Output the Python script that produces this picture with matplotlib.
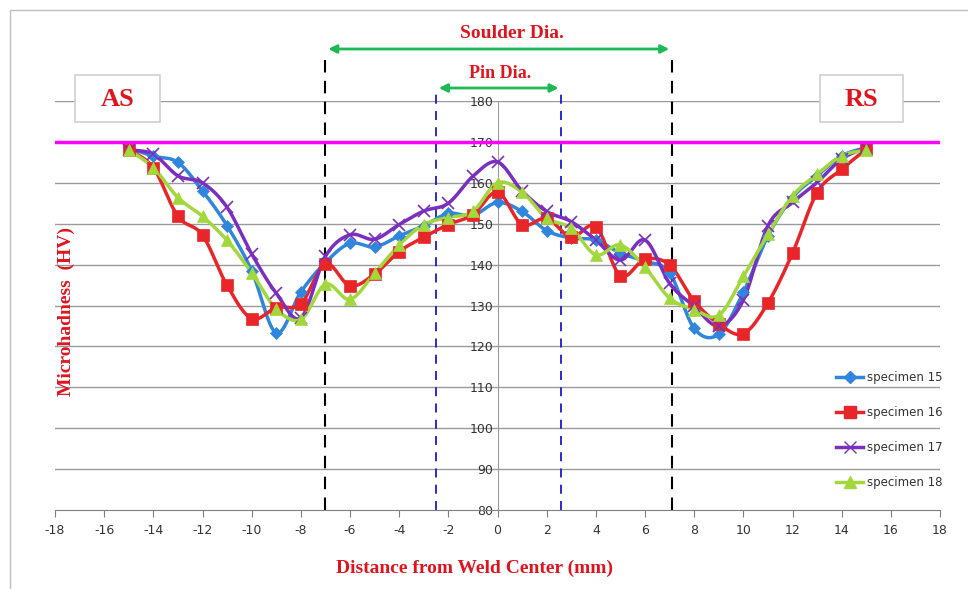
import numpy as np
import matplotlib
matplotlib.use("Agg")
import matplotlib.pyplot as plt
from matplotlib.patches import Rectangle

x = list(range(-15, 16))
spec15 = [168.5, 166.5, 165, 158, 149.5, 138.5, 123.3, 133.3, 140.5, 145.2, 144.3, 147, 149.5, 152.5, 152, 155.2,
          153, 148.3, 146.5, 146, 142.8, 140.8, 138, 124.4, 123, 133.2, 147, 156.4, 161.7, 166.6, 168.6]
spec16 = [168, 163.7, 151.8, 147.2, 134.9, 126.8, 129.5, 130.4, 140.2, 134.8, 137.7, 143.2, 146.7, 149.8, 152.2, 157.7,
          149.8, 151.3, 146.7, 149.3, 137.3, 141.3, 139.9, 131.1, 125.5, 123.1, 130.6, 142.8, 157.6, 163.3, 168.2]
spec17 = [168, 167, 161.7, 160, 154, 142.6, 133, 127, 142, 147.3, 146.2, 149.8, 153.1, 155, 161.6, 165.1,
          158, 153, 150.5, 146, 141.1, 146, 135.4, 129.8, 125, 131.3, 149.5, 155.2, 160.1, 165.8, 168.6]
spec18 = [168, 163.7, 156.4, 151.8, 145.9, 138, 129.2, 126.6, 135.2, 131.5, 137.9, 144.8, 149.8, 151.5, 153, 160,
          157.7, 151.4, 148.9, 142.4, 144.8, 139.3, 131.8, 129, 127.6, 137.1, 147.4, 156.8, 162.1, 166.6, 168]
series_names = ["specimen 15", "specimen 16", "specimen 17", "specimen 18"]
x_ticks = list(range(-18, 19, 2))
y_ticks = list(range(80, 181, 10))
base_line = 170
shoulder = (-7, 7.1)
pin = (-2.5, 2.6)


def smooth(xs, ys, n=20):
    xs = np.asarray(xs, float); ys = np.asarray(ys, float)
    P = np.column_stack([xs, ys])
    P = np.vstack([P[0], P, P[-1]])
    out = []
    t = np.linspace(0, 1, n, endpoint=False)
    for i in range(1, len(P) - 2):
        p0, p1, p2, p3 = P[i - 1], P[i], P[i + 1], P[i + 2]
        tt = t[:, None]
        seg = 0.5 * ((2 * p1) + (-p0 + p2) * tt + (2 * p0 - 5 * p1 + 4 * p2 - p3) * tt ** 2
                     + (-p0 + 3 * p1 - 3 * p2 + p3) * tt ** 3)
        out.append(seg)
    out.append(P[-2][None, :])
    out = np.vstack(out)
    return out[:, 0], out[:, 1]


fig = plt.figure(figsize=(9.68, 5.89), dpi=100)
ax = fig.add_axes([55 / 968, 79 / 589, 885 / 968, 409 / 589])
ax.set_xlim(-18, 18)
ax.set_ylim(80, 180)

# outer chart border
fig.patches.append(Rectangle((10 / 968, -0.1), 1.2, (589 - 10) / 589 + 0.1, transform=fig.transFigure,
                             fill=False, edgecolor="#bdbdbd", linewidth=1))

for yv in y_ticks[1:]:
    ax.axhline(yv, color="#9a9a9a", linewidth=1, zorder=0)

for s in ["top", "right"]:
    ax.spines[s].set_visible(False)
ax.spines["left"].set_position(("data", 0))
ax.spines["left"].set_color("#9a9a9a")
ax.spines["bottom"].set_color("#7f7f7f")
ax.set_xticks(x_ticks)
ax.set_yticks(y_ticks)
ax.set_xticklabels([str(v) for v in x_ticks])
ax.tick_params(axis="x", length=5, color="#7f7f7f", labelsize=9, labelcolor="#333333", pad=5)
ax.tick_params(axis="y", length=0, labelsize=9, labelcolor="#333333", pad=3)

colors = ["#2F86DC", "#E8262A", "#7B2FBE", "#A2D83B"]
markers = ["D", "s", "x", "^"]
msizes = [6, 8, 8, 8]
data = [spec15, spec16, spec17, spec18]
handles = []
for ys, c, m, ms, name in zip(data, colors, markers, msizes, series_names):
    sx, sy = smooth(x, ys)
    ax.plot(sx, sy, color=c, linewidth=2.5, zorder=3, clip_on=False)
    ax.plot(x, ys, linestyle="none", marker=m, color=c, markersize=ms, markeredgewidth=1.2 if m == "x" else 0.5,
            zorder=4, clip_on=False)
    h, = ax.plot([], [], color=c, linewidth=2.5, marker=m, markersize=ms)
    handles.append(h)

ax.axhline(base_line, color="#FF00FF", linewidth=2.5, zorder=5)

# vertical dashed lines
top_sh = 180 + (101 - 60) / 4.09
top_pin = 180 + (101 - 92) / 4.09
for xv in shoulder:
    ax.plot([xv, xv], [80, top_sh], color="black", linestyle=(0, (6, 4)), linewidth=1.5, clip_on=False, zorder=2)
for xv in pin:
    ax.plot([xv, xv], [80, top_pin], color="#1a1acc", linestyle=(0, (5, 4)), linewidth=1.3, clip_on=False, zorder=2)

y_arrow1 = 180 + (101 - 49) / 4.09
y_arrow2 = 180 + (101 - 88) / 4.09
ax.annotate("", xy=(shoulder[0], y_arrow1), xytext=(shoulder[1], y_arrow1),
            arrowprops=dict(arrowstyle="<|-|>", color="#1DB954", lw=2, mutation_scale=12), annotation_clip=False)
ax.annotate("", xy=(pin[0], y_arrow2), xytext=(pin[1], y_arrow2),
            arrowprops=dict(arrowstyle="<|-|>", color="#1DB954", lw=2, mutation_scale=12), annotation_clip=False)

tfont = dict(family="Liberation Serif", weight="bold", color="#E0141E")
fig.text(512 / 968, 1 - 33 / 589, "Soulder Dia.", ha="center", va="center", fontsize=14, **tfont)
fig.text(500 / 968, 1 - 74 / 589, "Pin Dia.", ha="center", va="center", fontsize=13, **tfont)
fig.text(475 / 968, 1 - 568 / 589, "Distance from Weld Center (mm)", ha="center", va="center", fontsize=14, **tfont)
fig.text(66 / 968, 1 - 312 / 589, "Microhadness  (HV)", ha="center", va="center", rotation=90, fontsize=14, **tfont)

for (x0, x1, lab) in [(75, 160, "AS"), (820, 903, "RS")]:
    fig.patches.append(Rectangle((x0 / 968, 1 - 122 / 589), (x1 - x0) / 968, 47 / 589, transform=fig.transFigure,
                                 facecolor="white", edgecolor="#d0d0d0", linewidth=1.2, zorder=5))
    fig.text((x0 + x1) / 2 / 968, 1 - 99 / 589, lab, ha="center", va="center", fontsize=19, zorder=6, **tfont)

leg = ax.legend(handles, series_names, loc="lower right", bbox_to_anchor=(1.015, 0.026), frameon=False,
                fontsize=8.5, labelspacing=1.85, handlelength=2.3, handletextpad=0.3)
for t in leg.get_texts():
    t.set_color("#333333")

fig.savefig("out.png", dpi=100)
